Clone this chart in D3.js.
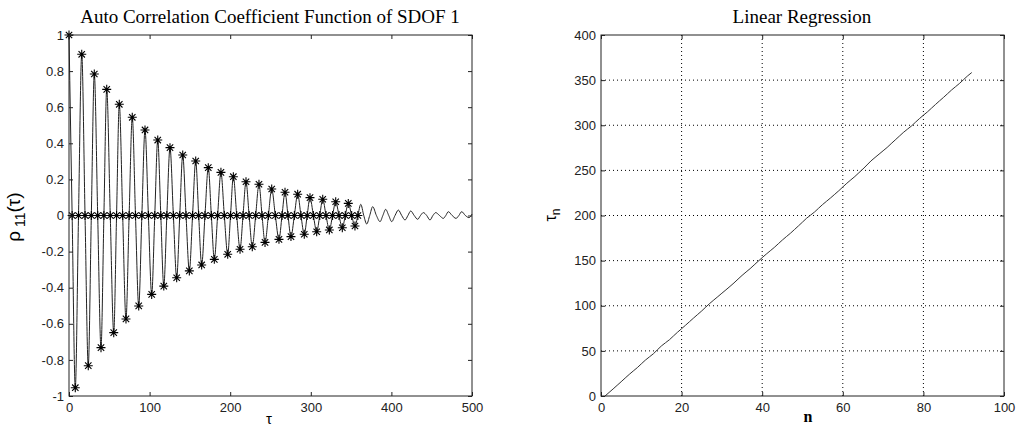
<!DOCTYPE html>
<html>
<head>
<meta charset="utf-8">
<script src="https://cdn.jsdelivr.net/npm/d3@7"></script>
<style>
body { margin: 0; background: #fff; }
.tick text { font-family: "Liberation Sans", Arial, sans-serif; font-size: 13px; fill: #222; }
.title { font-family: "Liberation Serif", "Times New Roman", serif; font-size: 19px; fill: #000; }
</style>
</head>
<body>
<div id="chart"></div>
<script>
// extrema of the correlation curve (tau, rho)
var extT = [0, 7.8, 15.8, 23.9, 31.4, 39.7, 46.8, 55.5, 62.4, 70.7, 78.5, 86.5, 94.3, 102.6, 110.1, 117.6,
    125.3, 133.6, 141.1, 149.3, 157.2, 164.6, 172.8, 180.3, 188.5, 196.9, 203.9, 212.2, 219.6, 227.4, 235.7,
    243.2, 251.5, 260.5, 268.0, 275.4, 283.7, 291.9, 299.0, 307.3, 314.8, 323.0, 330.9, 339.1, 346.5, 354.8,
    362.0, 369.4, 376.8, 385.9, 392.9, 400.4, 408.6, 416.9, 424.0, 432.6, 439.6, 447.9, 455.0, 464.4, 470.6,
    480.2, 487.2, 496.3];
var extV = [1, -0.954, 0.893, -0.832, 0.784, -0.732, 0.699, -0.649, 0.616, -0.573, 0.544, -0.501, 0.474, -0.437,
    0.418, -0.391, 0.376, -0.345, 0.335, -0.307, 0.302, -0.274, 0.265, -0.243, 0.239, -0.215, 0.215, -0.187,
    0.187, -0.173, 0.173, -0.149, 0.147, -0.132, 0.129, -0.117, 0.118, -0.104, 0.099, -0.090, 0.090, -0.080,
    0.076, -0.068, 0.067, -0.058, 0.062, -0.047, 0.049, -0.034, 0.034, -0.034, 0.030, -0.025, 0.025, -0.021,
    0.016, -0.025, 0.016, -0.016, 0.021, -0.016, 0.021, -0.012];
// zero crossings of the curve
var zeroT = [3.9, 11.8, 19.9, 27.7, 35.6, 43.3, 51.2, 59.0, 66.6, 74.6, 82.5, 90.4, 98.5, 106.4, 113.9, 121.4,
    129.5, 137.4, 145.2, 153.3, 160.9, 168.7, 176.6, 184.4, 192.7, 200.4, 208.1, 215.9, 223.5, 231.6, 239.5,
    247.4, 256.0, 264.3, 271.7, 279.6, 287.8, 295.5, 303.2, 311.1, 318.9, 327.0, 335.0, 342.8, 350.7, 358.4,
    365.7, 373.1, 381.4, 389.4, 396.7, 404.5, 412.8, 420.5, 428.3, 436.1, 443.8, 451.5, 459.7, 467.5, 475.4,
    483.7, 491.8];
var endPoint = [500, 0.008];
var marked = 46; // points with a star marker (the rest of the tail has none)

var xTicks1 = [0, 100, 200, 300, 400, 500];
var yTicks1 = [-1, -0.8, -0.6, -0.4, -0.2, 0, 0.2, 0.4, 0.6, 0.8, 1];
var xTicks2 = [0, 20, 40, 60, 80, 100];
var yTicks2 = [0, 50, 100, 150, 200, 250, 300, 350, 400];

var svg = d3.select("#chart").append("svg")
    .attr("width", 1026)
    .attr("height", 438);

var x1 = d3.scaleLinear().domain([0, 500]).range([69, 472]);
var y1 = d3.scaleLinear().domain([-1, 1]).range([396, 35]);
var x2 = d3.scaleLinear().domain([0, 100]).range([601, 1004]);
var y2 = d3.scaleLinear().domain([0, 400]).range([396, 35]);

function fmt(d) { return String(+d.toFixed(1)); }

function frame(x, y, xt, yt) {
    var g = svg.append("g").attr("color", "#222");
    var x0 = x.range()[0], xr = x.range()[1], yb = y.range()[0], yt0 = y.range()[1];
    g.append("g").attr("transform", "translate(0," + yb + ")")
        .call(d3.axisBottom(x).tickValues(xt).tickSize(-4).tickPadding(6.5).tickFormat(fmt));
    g.append("g").attr("transform", "translate(0," + yt0 + ")")
        .call(d3.axisTop(x).tickValues(xt).tickSize(-4).tickFormat(""));
    g.append("g").attr("transform", "translate(" + x0 + ",0)")
        .call(d3.axisLeft(y).tickValues(yt).tickSize(-4).tickPadding(5).tickFormat(fmt));
    g.append("g").attr("transform", "translate(" + xr + ",0)")
        .call(d3.axisRight(y).tickValues(yt).tickSize(-4).tickFormat(""));
    g.selectAll(".domain").remove();
    g.append("rect")
        .attr("x", x0).attr("y", yt0)
        .attr("width", xr - x0).attr("height", yb - yt0)
        .attr("fill", "none").attr("stroke", "#222");
    return g;
}

// ---- left: auto correlation ----
var pts = extT.map(function (t, i) { return [t, extV[i]]; })
    .concat(zeroT.map(function (t) { return [t, 0]; }))
    .concat([endPoint])
    .sort(function (a, b) { return a[0] - b[0]; });

var line1 = d3.line()
    .x(function (d) { return x1(d[0]); })
    .y(function (d) { return y1(d[1]); })
    .curve(d3.curveMonotoneX);

svg.append("path")
    .datum(pts)
    .attr("d", line1)
    .attr("fill", "none")
    .attr("stroke", "#222")
    .attr("stroke-width", 1);

var starPts = extT.slice(0, marked).map(function (t, i) { return [t, extV[i]]; })
    .concat(zeroT.slice(0, marked).map(function (t) { return [t, 0]; }));

var star = "M-4.5,0H4.5M0,-4.5V4.5M-3.2,-3.2L3.2,3.2M-3.2,3.2L3.2,-3.2";
svg.append("g").selectAll("path")
    .data(starPts)
    .enter()
    .append("path")
    .attr("transform", function (d) { return "translate(" + x1(d[0]) + "," + y1(d[1]) + ")"; })
    .attr("d", star)
    .attr("fill", "none")
    .attr("stroke", "#000")
    .attr("stroke-width", 1.1);

frame(x1, y1, xTicks1, yTicks1);

svg.append("text").attr("class", "title")
    .attr("x", 270).attr("y", 23).attr("text-anchor", "middle")
    .text("Auto Correlation Coefficient Function of SDOF 1");

svg.append("text")
    .attr("x", 269).attr("y", 424).attr("text-anchor", "middle")
    .style("font-family", "Liberation Sans, Arial, sans-serif").style("font-size", "15px")
    .text("τ");

var yl = svg.append("text")
    .attr("transform", "translate(20,217) rotate(-90)")
    .attr("text-anchor", "middle")
    .style("font-family", "Liberation Sans, Arial, sans-serif").style("font-size", "19px");
yl.append("tspan").text("ρ");
yl.append("tspan").attr("dy", 5).style("font-size", "14px").text(" 11");
yl.append("tspan").attr("dy", -5).text("(τ)");

// ---- right: tau_n against n ----
var tauN = extT.slice(0, marked).concat(zeroT.slice(0, marked)).sort(d3.ascending);

svg.append("g").selectAll("line.gx")
    .data(xTicks2.slice(1, -1))
    .enter().append("line")
    .attr("x1", function (d) { return x2(d); }).attr("x2", function (d) { return x2(d); })
    .attr("y1", 35).attr("y2", 396)
    .attr("stroke", "#000").attr("stroke-dasharray", "1,3");
svg.append("g").selectAll("line.gy")
    .data(yTicks2.slice(1, -1))
    .enter().append("line")
    .attr("y1", function (d) { return y2(d); }).attr("y2", function (d) { return y2(d); })
    .attr("x1", 601).attr("x2", 1004)
    .attr("stroke", "#000").attr("stroke-dasharray", "1,3");

var line2 = d3.line()
    .x(function (d, i) { return x2(i + 1); })
    .y(function (d) { return y2(d); });

svg.append("path")
    .datum(tauN)
    .attr("d", line2)
    .attr("fill", "none")
    .attr("stroke", "#333")
    .attr("stroke-width", 1);

frame(x2, y2, xTicks2, yTicks2);

svg.append("text").attr("class", "title")
    .attr("x", 802).attr("y", 23).attr("text-anchor", "middle")
    .text("Linear Regression");

svg.append("text")
    .attr("x", 808).attr("y", 422).attr("text-anchor", "middle")
    .style("font-family", "Liberation Serif, serif").style("font-size", "16px").style("font-weight", "bold")
    .text("n");

var yl2 = svg.append("text")
    .attr("transform", "translate(556,215) rotate(-90)")
    .attr("text-anchor", "middle")
    .style("font-family", "Liberation Sans, Arial, sans-serif").style("font-size", "16px");
yl2.append("tspan").text("τ");
yl2.append("tspan").attr("dy", 4).style("font-size", "12px").text("n");
</script>
</body>
</html>
